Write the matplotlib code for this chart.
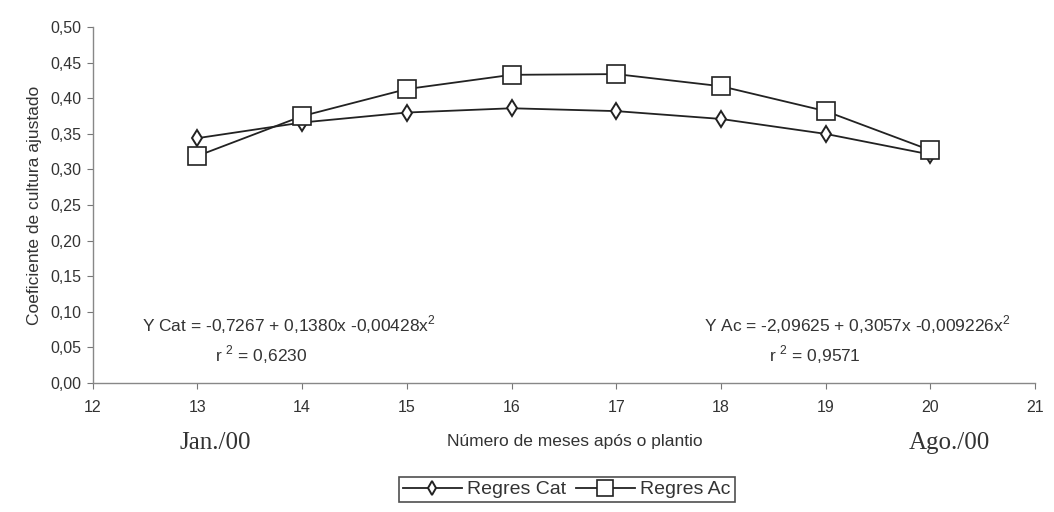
import matplotlib.pyplot as plt
from matplotlib.ticker import FuncFormatter

# months after planting
meses = [13, 14, 15, 16, 17, 18, 19, 20]
regres_cat = [0.344, 0.366, 0.380, 0.386, 0.382, 0.371, 0.350, 0.321]
regres_ac = [0.319, 0.375, 0.413, 0.433, 0.434, 0.417, 0.382, 0.327]

eq_cat = "Y Cat = -0,7267 + 0,1380x -0,00428x$^2$"
r2_cat = "r $^2$ = 0,6230"
eq_ac = "Y Ac = -2,09625 + 0,3057x -0,009226x$^2$"
r2_ac = "r $^2$ = 0,9571"

plt.rcParams['font.family'] = ['Liberation Sans', 'DejaVu Sans']
plt.rcParams['mathtext.fontset'] = 'custom'
plt.rcParams['mathtext.rm'] = 'Liberation Sans'
txt = '#333333'

fig = plt.figure(figsize=(10.54, 5.12), dpi=100)
ax = fig.add_axes([0.088, 0.252, 0.894, 0.695])

ax.plot(meses, regres_cat, color='#222222', lw=1.3, marker='d', ms=8,
        mfc='white', mec='#222222', mew=1.4, label='Regres Cat')
ax.plot(meses, regres_ac, color='#222222', lw=1.3, marker='s', ms=13,
        mfc='white', mec='#222222', mew=1.2, label='Regres Ac')

ax.set_xlim(12, 21)
ax.set_ylim(0, 0.5)
ax.set_xticks(range(12, 22))
ax.set_yticks([i * 0.05 for i in range(11)])
ax.yaxis.set_major_formatter(FuncFormatter(lambda v, p: ('%.2f' % v).replace('.', ',')))
ax.tick_params(colors='#777777', labelcolor=txt, labelsize=11.5, length=4, width=0.8)
ax.tick_params(axis='x', pad=8)
ax.tick_params(axis='y', pad=4)

for s in ['top', 'right']:
    ax.spines[s].set_visible(False)
for s in ['left', 'bottom']:
    ax.spines[s].set_color('#888888')
    ax.spines[s].set_linewidth(1.0)

ax.set_ylabel('Coeficiente de cultura ajustado', fontsize=12.5, color=txt, labelpad=6)
fig.text(0.545, 0.137, 'Número de meses após o plantio', fontsize=12.5, color=txt,
         ha='center', va='center')
fig.text(0.204, 0.135, 'Jan./00', fontsize=18, color=txt, ha='center', va='center',
         family='Liberation Serif')
fig.text(0.901, 0.135, 'Ago./00', fontsize=18, color=txt, ha='center', va='center',
         family='Liberation Serif')

ax.text(13.87, 0.0815, eq_cat, fontsize=12.5, color=txt, ha='center', va='center')
ax.text(13.61, 0.040, r2_cat, fontsize=12.5, color=txt, ha='center', va='center')
ax.text(19.30, 0.0815, eq_ac, fontsize=12.5, color=txt, ha='center', va='center')
ax.text(18.90, 0.040, r2_ac, fontsize=12.5, color=txt, ha='center', va='center')

leg = fig.legend(loc='lower center', bbox_to_anchor=(0.538, 0.0), ncol=2, fontsize=14,
                 frameon=True, fancybox=False, edgecolor='#222222', handlelength=3.0,
                 columnspacing=0.5, handletextpad=0.3, borderpad=0.2, markerscale=0.85)
leg.get_frame().set_linewidth(1.2)
for t in leg.get_texts():
    t.set_color(txt)

fig.savefig('out.png', dpi=100, facecolor='white')
